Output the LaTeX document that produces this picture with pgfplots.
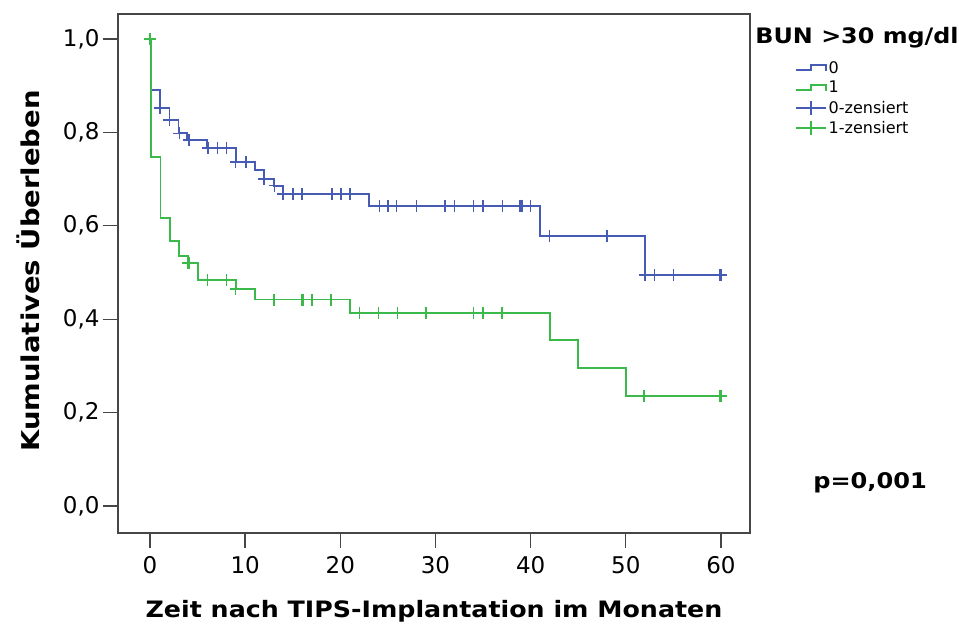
\documentclass[border=0pt]{standalone}
\usepackage{fontspec}
\setmainfont{DejaVu Sans}
\newfontfamily\bfwide{DejaVu Sans}[FakeStretch=1.12]
\usepackage{pgfplots}
\pgfplotsset{compat=1.18}
\definecolor{kmblue}{RGB}{70,92,180}
\definecolor{kmgreen}{RGB}{60,185,75}
\definecolor{frame}{RGB}{70,70,70}
\pgfplotsset{
  stepicon/.style={legend image code/.code={\draw[##1] (0pt,-2pt) -- (15pt,-2pt) -- (15pt,3pt) -- (30pt,3pt) -- (30pt,-3pt);}},
  censicon/.style={legend image code/.code={\draw[##1] (0pt,0pt) -- (30pt,0pt); \draw[##1] (15pt,-7pt) -- (15pt,7pt);}},
}
\begin{document}
\begin{tikzpicture}
\path[use as bounding box] (-118pt,-92pt) rectangle (841pt,533pt);
\begin{axis}[
  scale only axis, width=632pt, height=519pt,
  xmin=-3.36, xmax=63.05, ymin=-0.0578, ymax=1.0535,
  clip=false,
  xtick={0,10,...,60}, ytick={0,0.2,0.4,0.6,0.8,1.0},
  tick align=outside, tick pos=left, major tick length=15pt,
  axis line style={frame, line width=1.3pt},
  every tick/.style={frame, line width=1.3pt},
  tick label style={font=\fontsize{23}{27}\selectfont},
  xticklabel style={yshift=-5pt},
  /pgf/number format/.cd, assume math mode=true, use comma, fixed, fixed zerofill, precision=1,
  /pgfplots/.cd,
  xticklabel={\pgfmathprintnumber[fixed,precision=0,fixed zerofill=false]{\tick}},
  xlabel={Zeit nach TIPS-Implantation im Monaten},
  xlabel style={font=\bfwide\bfseries\fontsize{22.6}{26}\selectfont, at={(axis description cs:0.5,-0.1500)}, anchor=center},
  ylabel={Kumulatives Überleben},
  ylabel style={font=\bfwide\bfseries\fontsize{24.5}{28}\selectfont, at={(axis description cs:-0.142,0.505)}, anchor=center},
  legend style={at={(rel axis cs:1.071,0.913)}, anchor=north west, draw=none, fill=none,
    font=\fontsize{16}{18}\selectfont, row sep=2.5pt, inner sep=0pt},
  legend cell align=left,
]
\addlegendimage{kmblue, line width=1.6pt, stepicon}
\addlegendentry{0}
\addlegendimage{kmgreen, line width=1.6pt, stepicon}
\addlegendentry{1}
\addlegendimage{kmblue, line width=1.6pt, censicon}
\addlegendentry{0-zensiert}
\addlegendimage{kmgreen, line width=1.6pt, censicon}
\addlegendentry{1-zensiert}

% group 0 (blue)
\addplot[kmblue, line width=1.8pt, const plot mark left, forget plot] coordinates {
(0,1.0) (0.1,0.891) (1.05,0.852) (2.05,0.827) (3.0,0.798) (3.85,0.784) (6.0,0.767)
(9.0,0.736) (11.0,0.719) (12.0,0.700) (13.0,0.686) (14.0,0.668) (23.0,0.643)
(41.0,0.578) (52.0,0.495) (60,0.495)};
\addplot[kmblue, only marks, mark=+, mark size=6pt, mark options={line width=1.6pt}, forget plot] coordinates {
(1.05,0.852) (2.05,0.827) (3.1,0.798) (4.1,0.784) (6.1,0.767) (7.1,0.767) (8.05,0.767)
(9.0,0.736) (10.1,0.736) (12.0,0.700) (13.1,0.686) (14.0,0.668) (15.05,0.668) (16.0,0.668)
(19.1,0.668) (20.05,0.668) (21.0,0.668) (24.1,0.643) (25.0,0.643) (25.9,0.643) (28.0,0.643)
(31.0,0.643) (32.0,0.643) (34.0,0.643) (35.0,0.643) (37.05,0.643) (38.9,0.643) (39.1,0.643)
(40.0,0.643) (42.0,0.578) (48.0,0.578) (52.0,0.495) (53.0,0.495) (55.0,0.495) (59.9,0.495) (60,0.495)};

% group 1 (green)
\addplot[kmgreen, line width=1.8pt, const plot mark left, forget plot] coordinates {
(0,1.0) (0.1,0.748) (1.1,0.616) (2.1,0.568) (3.05,0.535) (4.0,0.520) (5.05,0.484)
(9.0,0.465) (11.0,0.442) (21.0,0.413) (42.0,0.355) (45.0,0.295) (50.0,0.236) (60,0.236)};
\addplot[kmgreen, only marks, mark=+, mark size=6pt, mark options={line width=1.6pt}, forget plot] coordinates {
(0,1.0) (4.0,0.520) (4.1,0.520) (6.05,0.484) (8.05,0.484) (9.0,0.465) (13.05,0.442)
(16.0,0.442) (16.1,0.442) (17.0,0.442) (19.0,0.442) (22.0,0.413) (24.0,0.413) (26.0,0.413)
(29.0,0.413) (34.0,0.413) (35.0,0.413) (37.0,0.413) (51.9,0.236) (59.9,0.236) (60,0.236)};

\node[anchor=west, font=\bfwide\bfseries\fontsize{21.3}{24}\selectfont] at (rel axis cs:1.003,0.954) {BUN >30 mg/dl};
\node[anchor=center, font=\bfwide\bfseries\fontsize{21.5}{25}\selectfont] at (rel axis cs:1.19,0.0963) {p=0,001};
\end{axis}
\end{tikzpicture}
\end{document}
